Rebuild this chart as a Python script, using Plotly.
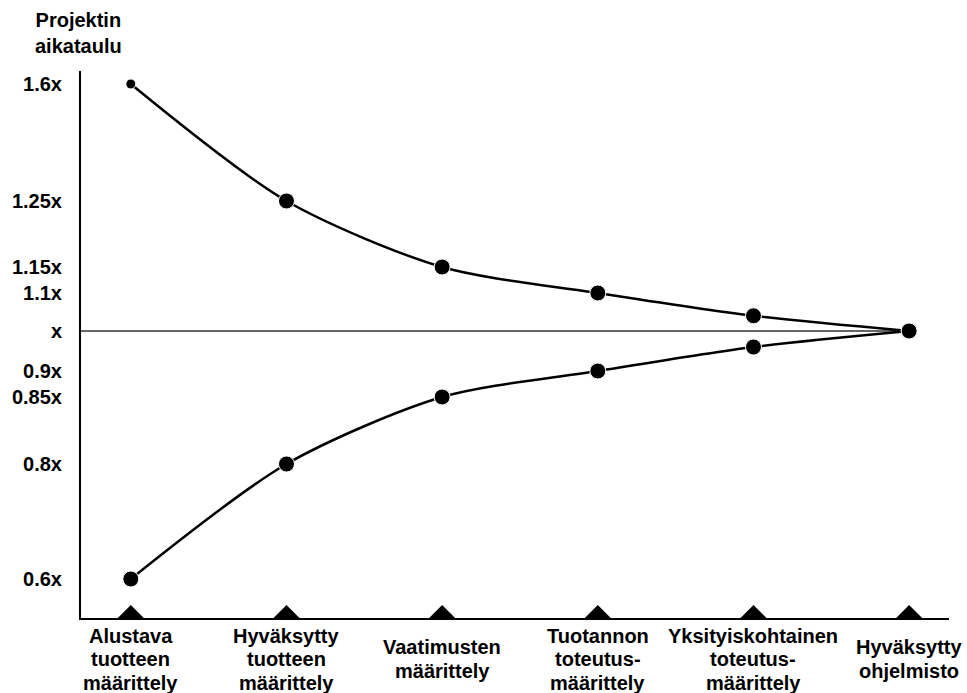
import numpy as np
import plotly.graph_objects as go

# ---- data ----
stages = [
    "Alustava<br>tuotteen<br>määrittely",
    "Hyväksytty<br>tuotteen<br>määrittely",
    "Vaatimusten<br>määrittely",
    "Tuotannon<br>toteutus-<br>määrittely",
    "Yksityiskohtainen<br>toteutus-<br>määrittely",
    "Hyväksytty<br>ohjelmisto",
]
upper = [1.6, 1.25, 1.15, 1.1, 1.04, 1.0]
lower = [0.6, 0.8, 0.85, 0.9, 0.96, 1.0]
tick_values = [0.6, 0.8, 0.85, 0.9, 1.0, 1.1, 1.15, 1.25, 1.6]
tick_labels = ["0.6x", "0.8x", "0.85x", "0.9x", "x", "1.1x", "1.15x", "1.25x", "1.6x"]

# ---- non-linear (hand-drawn) vertical scale of the original chart ----
axis_positions = [0, 115, 182, 208, 248, 286, 312, 378, 495]


def to_axis(v):
    return np.interp(v, tick_values, axis_positions)


x_idx = list(range(len(stages)))
x_range = [-0.32, 5.256]
y_range = [-39, 508]

FONT = dict(family="Liberation Sans, Arial, sans-serif", size=20, color="black", weight="bold")
LINE_STEP = 23.5      # px between label lines
LABEL_CENTER = 41     # px below the time axis

fig = go.Figure()

# reference line at x (1.0)
fig.add_trace(go.Scatter(
    x=[x_range[0], x_idx[-1]], y=[to_axis(1.0)] * 2, mode="lines",
    line=dict(color="#333333", width=1.5), hoverinfo="skip", showlegend=False,
))

for series, first_size in ((upper, 10), (lower, 16)):
    sizes = [first_size] + [16] * (len(series) - 1)
    fig.add_trace(go.Scatter(
        x=x_idx, y=to_axis(series), mode="lines+markers",
        line=dict(color="black", width=2.5, shape="spline", smoothing=0.8),
        marker=dict(color="black", size=sizes, opacity=1),
        showlegend=False, cliponaxis=False, hoverinfo="skip",
    ))

# milestone markers on the time axis (half diamonds clipped by the axis)
fig.add_trace(go.Scatter(
    x=x_idx, y=[y_range[0]] * len(x_idx), mode="markers",
    marker=dict(symbol="diamond", size=20, color="black", opacity=1),
    cliponaxis=True, showlegend=False, hoverinfo="skip",
))

for i, s in enumerate(stages):
    lines = s.split("<br>")
    n = len(lines)
    for j, ln in enumerate(lines):
        fig.add_annotation(
            x=i, xref="x", y=0, yref="paper", yanchor="middle", xanchor="center",
            yshift=-(LABEL_CENTER + (j - (n - 1) / 2) * LINE_STEP),
            text=ln, showarrow=False, font=FONT, align="center",
        )

fig.add_annotation(
    x=0, xref="paper", y=1, yref="paper", yanchor="middle", xanchor="center",
    yshift=38, xshift=-3, text="Projektin<br>aikataulu", showarrow=False, font=FONT,
    align="center",
)

fig.update_layout(
    width=967, height=693,
    margin=dict(l=77, r=18, t=71, b=75),
    paper_bgcolor="white", plot_bgcolor="white",
    font=FONT,
    xaxis=dict(range=x_range, showgrid=False, zeroline=False, showline=True,
               linecolor="black", linewidth=2, showticklabels=False, ticks=""),
    yaxis=dict(range=y_range, showgrid=False, zeroline=False, showline=True,
               linecolor="black", linewidth=2, ticks="",
               tickvals=to_axis(tick_values), ticktext=tick_labels,
               ticklabelstandoff=13),
)

fig.write_html("out.html", config={"displayModeBar": False},
               post_script="document.body.style.margin='0';")
